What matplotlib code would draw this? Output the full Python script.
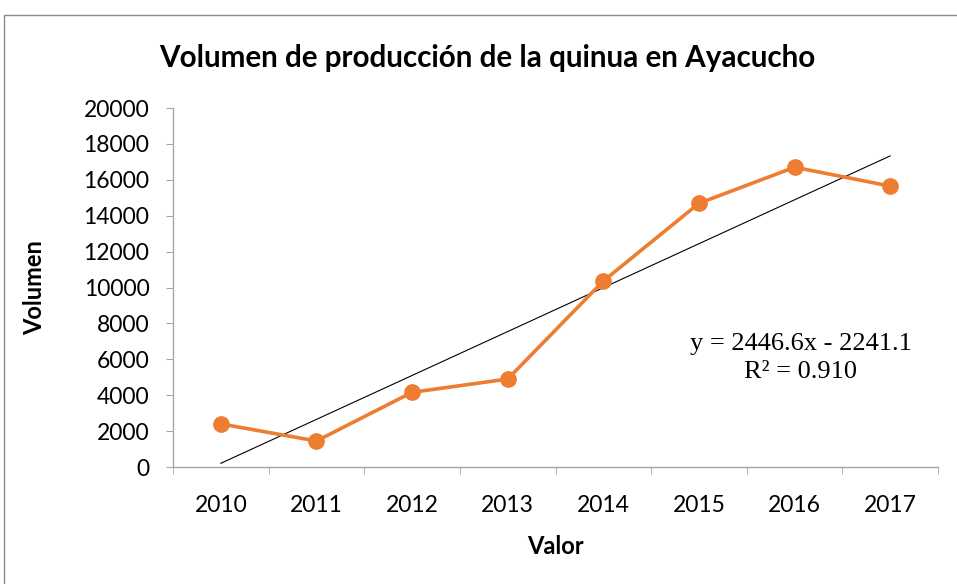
import numpy as np
import matplotlib; matplotlib.use("Agg")
import matplotlib.pyplot as plt
from matplotlib.patches import Rectangle

# ── Data ────────────────────────────────────────────────────────────────────
years   = ["2010", "2011", "2012", "2013", "2014", "2015", "2016", "2017"]
volumen = [2400, 1450, 4160, 4900, 10360, 14690, 16700, 15650]
slope, intercept = 2446.6, -2241.1     # linear trend shown in the label
r2 = 0.910

plt.rcParams["font.family"] = ["Lato", "DejaVu Sans"]

x = np.arange(1, len(years) + 1)
trend = slope * x + intercept

fig = plt.figure(figsize=(9.57, 5.84), dpi=100)
ax = fig.add_axes([173/957, 117/584, 765/957, 359/584])

ax.plot(x, volumen, "-o", color="#ED7D31", lw=2.6, ms=11, zorder=3)
ax.plot([x[0], x[-1]], [trend[0], trend[-1]], color="black", lw=0.8, zorder=2)

ax.set_xlim(0.5, len(years) + 0.5)
ax.set_ylim(0, 20000)
ax.set_yticks(np.arange(0, 20001, 2000))
ax.set_xticks(x)
ax.set_xticklabels(years)
ax.set_xticks(np.arange(0.5, len(years) + 1), minor=True)
ax.tick_params(axis="x", which="major", length=0, labelsize=16.5, pad=20)
ax.tick_params(axis="x", which="minor", length=5, color="#a6a6a6")
ax.tick_params(axis="y", length=5, color="#a6a6a6", labelsize=16.5, pad=12)

for s in ("top", "right"):
    ax.spines[s].set_visible(False)
for s in ("left", "bottom"):
    ax.spines[s].set_color("#a6a6a6")
    ax.spines[s].set_linewidth(1.0)

ax.set_xlabel("Valor", fontsize=17, fontweight="bold")
ax.set_ylabel("Volumen", fontsize=17, fontweight="bold")
ax.xaxis.set_label_coords(0.5, -0.19)
ax.yaxis.set_label_coords(-0.166, 0.5)

fig.text(487/957, 1 - 58/584, "Volumen de producción de la quinua en Ayacucho",
         ha="center", va="center", fontsize=21.3, fontweight="bold")

ax.text((801 - 173) / 765, (467 - 358) / 359,
        f"y = {slope}x - {abs(intercept)}\nR² = {r2:.3f}",
        transform=ax.transAxes, ha="center", va="center",
        fontsize=19, family="Liberation Serif", linespacing=1.3)

fig.patches.append(Rectangle((4/957, -0.1), 1.2, 1 - 15/584 + 0.1,
                             transform=fig.transFigure, fill=False,
                             edgecolor="#8c8c8c", lw=1.0))

plt.savefig("out.png", dpi=100)
